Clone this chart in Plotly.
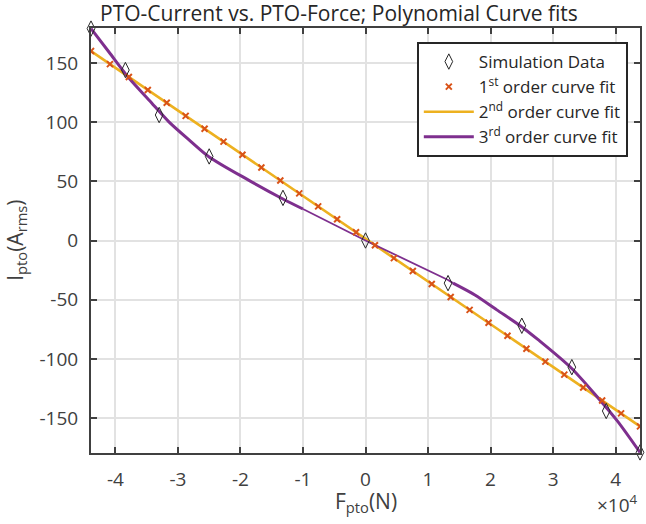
import plotly.graph_objects as go

# Simulation data (F in N, I in A_rms)
sim_F = [-43900, -38400, -33000, -25000, -13200, 0, 13200, 25000, 33000, 38500, 43900]
sim_I = [179, 144, 106, 71, 36, 0, -36, -72, -107, -144, -179]

# 1st order curve fit samples
fit1_F = [-43900, -40872, -37845, -34817, -31790, -28762, -25734, -22707, -19679, -16652,
          -13624, -10597, -7569, -4541, -1514, 1514, 4541, 7569, 10597, 13624,
          16652, 19679, 22707, 25734, 28762, 31790, 34817, 37845, 40872, 43900]
fit1_I = [160.0, 149.0, 138.1, 127.2, 116.3, 105.3, 94.4, 83.5, 72.5, 61.6,
          50.7, 39.8, 28.8, 17.9, 7.0, -4.0, -14.9, -25.8, -36.8, -47.7,
          -58.6, -69.5, -80.5, -91.4, -102.3, -113.3, -124.2, -135.1, -146.0, -157.0]

# 2nd order curve fit
fit2_F = [-43900, -22000, 0, 22000, 43900]
fit2_I = [160, 81, 1.5, -78, -157]

# 3rd order curve fit
fit3_F = [-43900, -41000, -37800, -34600, -31400, -28000, -25000, -18700, -13350, -10000,
          -9100, -5000, 0, 6000, 13200, 14000, 17500, 21000, 24900, 27600,
          32900, 37200, 40300, 43900]
fit3_I = [179, 159, 137, 118.5, 100, 84, 70.6, 51, 35.5, 26.6,
          24.3, 13.3, 0, -15, -33.3, -36, -46, -58.6, -72.6, -83.8,
          -107.7, -133, -152.6, -179]

xtick_vals = [-40000, -30000, -20000, -10000, 0, 10000, 20000, 30000, 40000]
xtick_text = ["-4", "-3", "-2", "-1", "0", "1", "2", "3", "4"]
ytick_vals = [-150, -100, -50, 0, 50, 100, 150]
ytick_text = ["-150", "-100", "-50", "0", "50", "100", "150"]

YEL = "#EDB120"
PUR = "#7E2F8E"
ORA = "#D95319"
AX = "#404040"
FONT = "Open Sans"

# split the 3rd order curve into thick outer parts and thin middle part
thick_F, thick_I, thin_F, thin_I = [], [], [], []
for f, i in zip(fit3_F, fit3_I):
    if f <= -10000 or f >= 14000:
        thick_F.append(f); thick_I.append(i)
    if -10000 <= f <= 14000:
        thin_F.append(f); thin_I.append(i)
    if f == -10000:
        thick_F.append(None); thick_I.append(None)

fig = go.Figure()
fig.add_trace(go.Scatter(x=fit2_F, y=fit2_I, mode="lines", name="2<sup>nd</sup> order curve fit",
                         line=dict(color=YEL, width=2.6), legendrank=3))
fig.add_trace(go.Scatter(x=thick_F, y=thick_I, mode="lines", name="3<sup>rd</sup> order curve fit",
                         line=dict(color=PUR, width=3, shape="spline", smoothing=0.8),
                         legendrank=4, legendgroup="p", connectgaps=False))
fig.add_trace(go.Scatter(x=thin_F, y=thin_I, mode="lines", showlegend=False,
                         line=dict(color=PUR, width=1.8), legendgroup="p"))
fig.add_trace(go.Scatter(x=fit1_F, y=fit1_I, mode="markers", name="1<sup>st</sup> order curve fit",
                         marker=dict(symbol="x-thin", size=6, line=dict(color=ORA, width=2)),
                         legendrank=2))
fig.add_trace(go.Scatter(x=sim_F, y=sim_I, mode="markers", name="Simulation Data",
                         marker=dict(symbol="diamond-tall-open", size=11, color="#262626",
                                     line=dict(width=1)),
                         legendrank=1, cliponaxis=False))

axis_common = dict(showline=True, linewidth=2, linecolor=AX, mirror="ticks",
                   ticks="inside", ticklen=6, tickwidth=2, tickcolor=AX,
                   showgrid=True, gridcolor="#e2e2e2", gridwidth=2, zeroline=False,
                   tickfont=dict(family=FONT, size=19, color=AX))

fig.update_xaxes(range=[-43900, 43900], tickvals=xtick_vals, ticktext=xtick_text,
                 ticklabelstandoff=8, **axis_common)
fig.update_yaxes(range=[-179.5, 179.5], tickvals=ytick_vals, ticktext=ytick_text,
                 ticklabelstandoff=7, **axis_common)

fig.update_layout(
    width=646, height=524,
    margin=dict(l=91, r=4, t=28, b=71),
    paper_bgcolor="white", plot_bgcolor="white",
    title=dict(text="PTO-Current vs. PTO-Force; Polynomial Curve fits",
               x=100/646, xanchor="left", xref="container",
               y=1-14/524, yanchor="middle", yref="container",
               font=dict(family=FONT, size=21, color="#262626")),
    legend=dict(x=(418-91)/551, xanchor="left", y=(453-42)/425, yanchor="top",
                bgcolor="white", bordercolor="#262626", borderwidth=2,
                font=dict(family=FONT, size=17, color="#262626"),
                itemwidth=50, tracegroupgap=0),
    showlegend=True,
    annotations=[
        dict(text="F<sub>pto</sub>(N)", x=0.5, xref="paper", y=-0.115, yref="paper",
             xanchor="center", yanchor="middle", showarrow=False,
             font=dict(family=FONT, size=21, color=AX)),
        dict(text="I<sub>pto</sub>(A<sub>rms</sub>)", x=-76/551, xref="paper", y=0.5, yref="paper",
             xanchor="center", yanchor="middle", showarrow=False, textangle=-90,
             font=dict(family=FONT, size=21, color=AX)),
        dict(text="×10<sup>4</sup>", x=1.0, xref="paper", y=-0.12, yref="paper",
             xanchor="right", yanchor="middle", showarrow=False,
             font=dict(family=FONT, size=19, color=AX)),
    ],
)

fig.write_html("out.html")
